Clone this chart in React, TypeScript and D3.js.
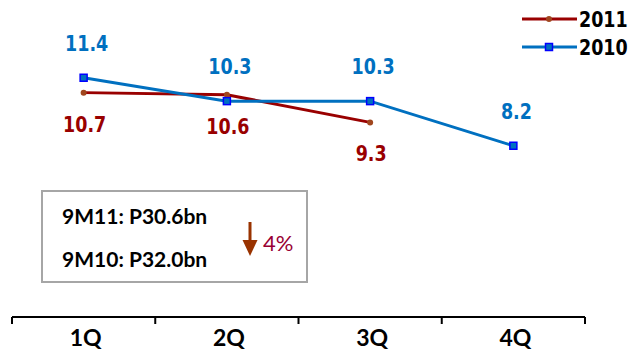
import React from 'react'
import * as d3 from 'd3'

const quarters = ['1Q', '2Q', '3Q', '4Q']
const values2011 = [10.7, 10.6, 9.3]
const values2010 = [11.4, 10.3, 10.3, 8.2]
const seriesNames = ['2011', '2010']
const boxLines = ['9M11: P30.6bn', '9M10: P32.0bn']
const changeLabel = '4%'

const W = 632
const H = 353
const RED = '#990000'
const BLUE = '#0070C0'
const LABEL_FONT = 'DejaVu Sans, Verdana, sans-serif'
const CAL_FONT = 'Lato, "Open Sans", sans-serif'

// stretched text, the source was squashed horizontally a bit
const SText = (p: { x: number; y: number; fill: string; size: number; family: string; weight?: string; anchor?: string; sy?: number; children: React.ReactNode }) => (
  <text
    transform={`translate(${p.x},${p.y}) scale(1,${p.sy ?? 1.17})`}
    fill={p.fill}
    fontSize={p.size}
    fontFamily={p.family}
    fontWeight={p.weight ?? 'bold'}
    textAnchor={p.anchor ?? 'middle'}
  >
    {p.children}
  </text>
)

const App = () => {
  const x = d3.scaleBand().domain(quarters).range([12, 585]).padding(0)
  const y = d3.scaleLinear().domain([0, 14]).range([320, 320 - 14 * 21.25])
  const cx = (i: number) => (x(quarters[i]) || 0) + x.bandwidth() / 2

  const line = d3.line<number>().x((_, i) => cx(i)).y((d) => y(d))
  const axisY = 317

  const boundaries = quarters.map((q) => x(q) || 0).concat([(x(quarters[3]) || 0) + x.bandwidth()])

  return (
    <svg width={W} height={H} style={{ position: 'absolute', left: 0, top: 0 }}>
      <rect width={W} height={H} fill="#fff" />

      {/* series lines */}
      <path d={line(values2011) || ''} fill="none" stroke={RED} strokeWidth={3} />
      <path d={line(values2010) || ''} fill="none" stroke={BLUE} strokeWidth={3} />

      {values2011.map((v, i) => (
        <circle key={'r' + i} cx={cx(i)} cy={y(v)} r={3} fill="#A0461E" />
      ))}
      {values2010.map((v, i) => (
        <rect key={'b' + i} x={cx(i) - 3.5} y={y(v) - 3.5} width={7} height={7} fill={BLUE} stroke="#0000FF" strokeWidth={1.5} />
      ))}

      {/* data labels */}
      {values2010.map((v, i) => (
        <SText key={'bl' + i} x={cx(i) + 3} y={y(v) - 27} fill={BLUE} size={17.5} family={LABEL_FONT}>
          {v.toFixed(1)}
        </SText>
      ))}
      {values2011.map((v, i) => (
        <SText key={'rl' + i} x={cx(i) + 1} y={y(v) + 39} fill={RED} size={17.5} family={LABEL_FONT}>
          {v.toFixed(1)}
        </SText>
      ))}

      {/* legend */}
      {seriesNames.map((s, i) => {
        const ly = 19 + i * 28
        const c = i === 0 ? RED : BLUE
        return (
          <g key={s}>
            <line x1={522} x2={577} y1={ly} y2={ly} stroke={c} strokeWidth={3} />
            {i === 0 ? (
              <circle cx={549} cy={ly} r={3} fill="#A0461E" />
            ) : (
              <rect x={545.5} y={ly - 3.5} width={7} height={7} fill={BLUE} stroke="#0000FF" strokeWidth={1.5} />
            )}
            <SText x={579} y={ly + 8} fill="#000" size={17.5} family={LABEL_FONT} anchor="start">
              {s}
            </SText>
          </g>
        )
      })}

      {/* summary box */}
      <rect x={42} y={191} width={265} height={91} fill="#fff" stroke="#A6A6A6" strokeWidth={2} />
      {boxLines.map((t, i) => (
        <SText key={t} x={62} y={224 + i * 43} fill="#000" size={21} family={CAL_FONT} anchor="start" sy={1}>
          {t}
        </SText>
      ))}
      <line x1={250} x2={250} y1={222} y2={242} stroke="#993300" strokeWidth={3} />
      <path d="M242.5,240 L257.5,240 L250,256 Z" fill="#993300" />
      <SText x={263} y={251} fill="#990033" size={22} family={CAL_FONT} anchor="start" weight="normal" sy={1}>
        {changeLabel}
      </SText>

      {/* category axis */}
      <line x1={12} x2={585} y1={axisY} y2={axisY} stroke="#000" strokeWidth={2} />
      {boundaries.map((b, i) => (
        <line key={'t' + i} x1={b} x2={b} y1={axisY} y2={axisY + 7} stroke="#000" strokeWidth={2} />
      ))}
      {quarters.map((q, i) => (
        <SText key={q} x={cx(i) + 2} y={346} fill="#000" size={23} family={CAL_FONT} sy={1}>
          {q}
        </SText>
      ))}
    </svg>
  )
}

export default App
